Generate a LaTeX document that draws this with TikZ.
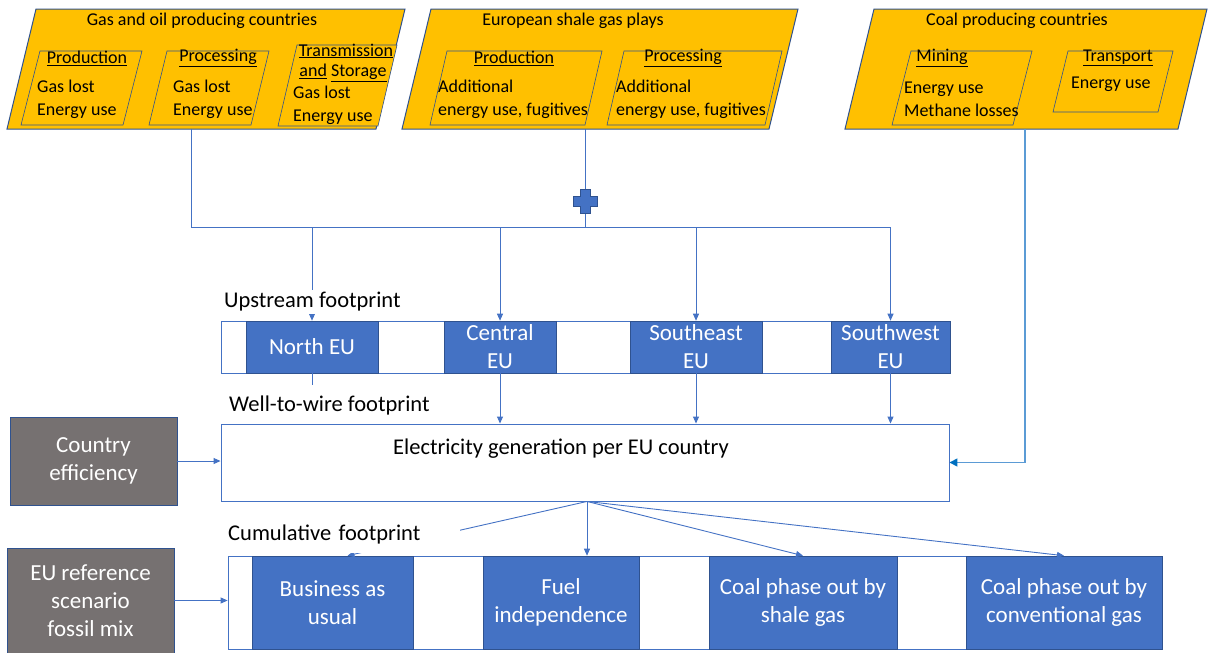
\documentclass[tikz,border=0pt]{standalone}
\usepackage{fontspec}
\setmainfont{Carlito}
\usepackage{tikz}
\usepackage{xcolor}
\usetikzlibrary{arrows.meta, calc, positioning}
\definecolor{matgold}{HTML}{FFC000}
\definecolor{matblue}{HTML}{4472C4}
\definecolor{matblue800}{HTML}{2F528F}
\definecolor{matsky}{HTML}{5B9BD5}
\definecolor{matsky800}{HTML}{0070C0}
\definecolor{matgrey}{HTML}{767171}
\newcommand\DrawFrame[4]{%
\node[inner sep=0pt,outer sep=0pt,rectangle,minimum width=#3,minimum height=#4] (#1) at #2 {};
}
\newcommand\DrawPara[3]{%
\filldraw[#3] ( $ (#1.north west) + (#2,0) $ ) -- (#1.north east) -- ( $ (#1.south east) + (-#2,0) $ ) -- (#1.south west) -- cycle;
}
\tikzset{
  outer/.style={fill=matgold,draw=matblue800,line width=1pt},
  inner/.style={fill=matgold,draw=matblue800,line width=0.6pt},
  toptext/.style={inner sep=0pt,align=left,font=\fontsize{18}{23}\selectfont},
  footlabel/.style={anchor=west,fill=white,inner sep=2pt,font=\fontsize{22.5}{26}\selectfont},
  band/.style={draw=matblue,line width=0.8pt,fill=white,inner sep=0pt},
  region/.style={draw=matblue800,fill=matblue,text=white,line width=0.6pt,inner sep=0pt,align=center,font=\fontsize{23}{28}\selectfont},
  input/.style={region,fill=matgrey},
  flow/.style={draw=matblue,line width=0.9pt,-{Triangle[length=7pt,width=6pt]}},
  link/.style={draw=matblue,line width=0.9pt},
  coalflow/.style={draw=matsky,line width=1.6pt,-{Triangle[length=8pt,width=8pt,color=matsky800]}},
}

\begin{document}
\begin{tikzpicture}[x=1pt,y=-1pt]
  \useasboundingbox (0,0) rectangle (1208,653);

  % source regions
  \DrawFrame{gasoil}{(206,69)}{398pt}{120pt}
  \DrawFrame{shale}{(600,69)}{396pt}{120pt}
  \DrawFrame{coal}{(1026,69)}{362pt}{120pt}
  \DrawPara{gasoil}{29}{outer}
  \DrawPara{shale}{29}{outer}
  \DrawPara{coal}{29}{outer}

  \DrawFrame{gasprod}{(81.5,88)}{121pt}{74pt}
  \DrawFrame{gasproc}{(209,88)}{120pt}{74pt}
  \DrawFrame{gastrans}{(337.5,85.5)}{119pt}{81pt}
  \DrawFrame{shaleprod}{(516,88)}{172pt}{74pt}
  \DrawFrame{shaleproc}{(694.5,88)}{175pt}{74pt}
  \DrawFrame{coalmine}{(962,88)}{140pt}{74pt}
  \DrawFrame{coaltrans}{(1113,81.5)}{120pt}{61pt}
  \DrawPara{gasprod}{19}{inner}
  \DrawPara{gasproc}{18}{inner}
  \DrawPara{gastrans}{19}{inner}
  \DrawPara{shaleprod}{17}{inner}
  \DrawPara{shaleproc}{17}{inner}
  \DrawPara{coalmine}{19}{inner}
  \DrawPara{coaltrans}{15}{inner}

  \node[toptext] (gasoiltitle) at (202,21) {Gas and oil producing countries};
  \node[toptext] (shaletitle) at (573,21) {European shale gas plays};
  \node[toptext] (coaltitle) at (1017,21) {Coal producing countries};

  \node[toptext] (gasprodhead) at (87,58) {\underline{Production}};
  \node[toptext,anchor=west] (gasprodtext) at (37,99) {Gas lost\\Energy use};
  \node[toptext] (gasprochead) at (218,58) {\underline{Processing}};
  \node[toptext,anchor=west] (gasproctext) at (173,99) {Gas lost\\Energy use};
  \node[toptext] (gastranshead) at (346,51) {\underline{Transmission}};
  \node[toptext] (gastranshead2) at (343,73) {\underline{and} \underline{Storage}};
  \node[toptext,anchor=west] (gastranstext) at (293,105) {Gas lost\\Energy use};

  \node[toptext] (shaleprodhead) at (514,58) {\underline{Production}};
  \node[toptext,anchor=west] (shaleprodtext) at (438,99) {Additional\\energy use, fugitives};
  \node[toptext] (shaleprochead) at (683,58) {\underline{Processing}};
  \node[toptext,anchor=west] (shaleproctext) at (616,99) {Additional\\energy use, fugitives};

  \node[toptext] (coalminehead) at (942,58) {\underline{Mining}};
  \node[toptext,anchor=west] (coalminetext) at (904,99) {Energy use\\Methane losses};
  \node[toptext] (coaltranshead) at (1118,58) {\underline{Transport}};
  \node[toptext,anchor=west] (coaltranstext) at (1071,84) {Energy use};

  % upstream footprint
  \node[band,minimum width=729pt,minimum height=52pt] (upband) at (585.5,347) {};
  \node[region,minimum width=132pt,minimum height=52pt] (north) at (312,347) {North EU};
  \node[region,minimum width=112pt,minimum height=52pt] (central) at (500,347) {Central\\EU};
  \node[region,minimum width=132pt,minimum height=52pt] (southeast) at (696,347) {Southeast\\EU};
  \node[region,minimum width=119pt,minimum height=52pt] (southwest) at (890.5,347) {Southwest\\EU};

  % well-to-wire
  \node[draw=matblue,line width=0.9pt,fill=white,minimum width=728pt,minimum height=77pt] (elec) at (585,462.5) {};
  \node[font=\fontsize{22.5}{26}\selectfont] (electext) at (561,449) {Electricity generation per EU country};
  \node[input,minimum width=167pt,minimum height=88pt] (ceff) at (93.5,461) {Country\\efficiency};

  % cumulative footprint
  \node[band,minimum width=934pt,minimum height=93pt] (cumband) at (695,602.5) {};
  \node[region,minimum width=161pt,minimum height=93pt] (bau) at (332.5,602.5) {Business as\\usual};
  \node[region,minimum width=156pt,minimum height=93pt] (fuel) at (561,602.5) {Fuel\\independence};
  \node[region,minimum width=188pt,minimum height=93pt] (coalshale) at (803,602.5) {Coal phase out by\\shale gas};
  \node[region,minimum width=196pt,minimum height=93pt] (coalconv) at (1064,602.5) {Coal phase out by\\conventional gas};
  \node[input,minimum width=167pt,minimum height=105pt] (euref) at (90.5,600.5) {EU reference\\scenario\\fossil mix};

  % connectors
  \coordinate (bus) at (0,227);
  \coordinate (gasout) at ($(gasoil.south)+(-14.5,0)$);
  \coordinate (shaleout) at ($(shale.south)+(-14.5,0)$);
  \draw[link] (shaleout) -- (shaleout |- bus);
  \draw[flow] (gasout) |- (bus -| southwest.north) -- (southwest.north);
  \draw[flow] (north.north |- bus) -- (north.north);
  \draw[flow] (central.north |- bus) -- (central.north);
  \draw[flow] (southeast.north |- bus) -- (southeast.north);
  \filldraw[fill=matblue,draw=matblue800,line width=0.6pt,shift={(585.5,201.5)}]
    (-5,-12) -- (5,-12) -- (5,-5) -- (12,-5) -- (12,5) -- (5,5) -- (5,12) -- (-5,12) -- (-5,5) -- (-12,5) -- (-12,-5) -- (-5,-5) -- cycle;

  \coordinate (northstub) at ($(north.south)+(0,12)$);
  \draw[link] (north.south) -- (northstub);
  \draw[flow] (central.south) -- (central.south |- elec.north);
  \draw[flow] (southeast.south) -- (southeast.south |- elec.north);
  \draw[flow] (southwest.south) -- (southwest.south |- elec.north);

  \coordinate (coalout) at ($(coal.south)+(-1,0)$);
  \draw[coalflow] (coalout) |- (elec.east);
  \draw[flow] (ceff.east) -- (ceff.east -| elec.west);
  \draw[flow] (euref.east) -- (euref.east -| cumband.west);

  \coordinate (elecout) at ($(elec.south)+(2,0)$);
  \draw[flow] (elecout) -- ($(bau.north)+(15,0)$);
  \draw[flow] (elecout) -- (elecout |- fuel.north);
  \draw[flow] (elecout) -- (coalshale.north);
  \draw[flow] (elecout) -- (coalconv.north);

  \node[footlabel] (upfoot) at (222,302) {Upstream footprint};
  \node[footlabel] (wellfoot) at (227,405) {Well-to-wire footprint};
  \node[footlabel,text width=230pt,minimum height=38pt] (cumfoot) at (226,534) {Cumulative footprint};
\end{tikzpicture}
\end{document}
